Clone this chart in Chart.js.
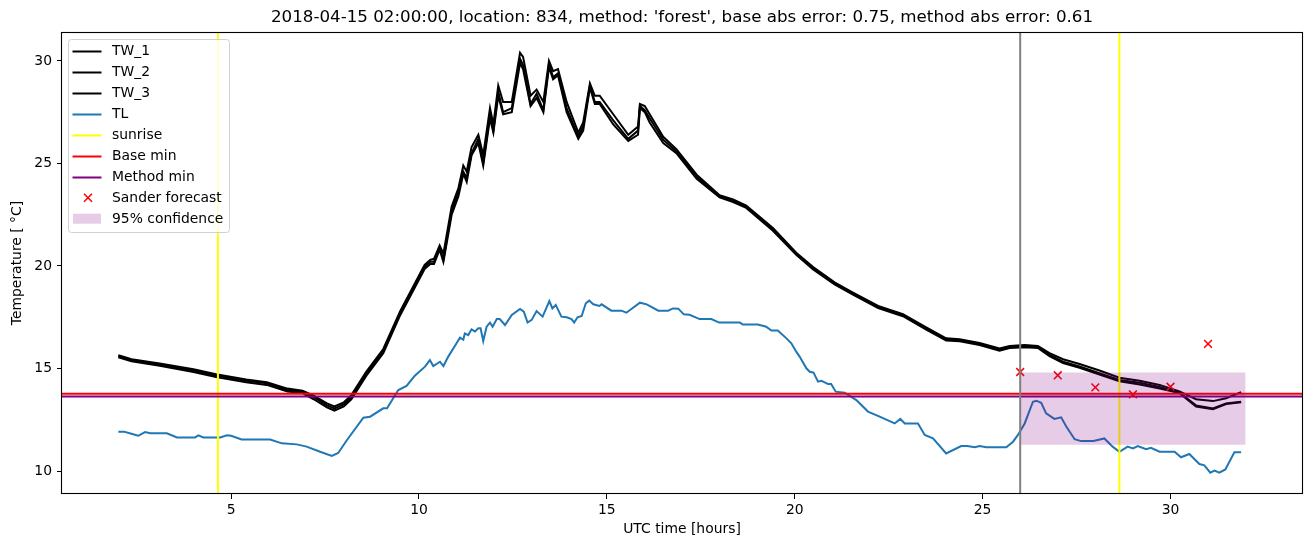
<!DOCTYPE html>
<html><head><meta charset="utf-8">
<script src="https://cdn.jsdelivr.net/npm/chart.js@4.4.1/dist/chart.umd.min.js"></script>
<style>html,body{margin:0;padding:0;background:#fff;}canvas{display:block;}</style>
</head><body>
<canvas id="c" width="1310" height="547"></canvas>
<script>
const titleText = "2018-04-15 02:00:00, location: 834, method: 'forest', base abs error: 0.75, method abs error: 0.61";
const xTitle = "UTC time [hours]";
const yTitle = "Temperature [ \u00B0C]";
const xTicks = [5, 10, 15, 20, 25, 30];
const yTicks = [10, 15, 20, 25, 30];
const xLimits = [0.5, 33.5];
const yLimits = [8.88, 31.41];

const twX = [2.0, 2.35, 3.1, 4.0, 4.6, 5.4, 5.95, 6.5, 6.9, 7.2, 7.55, 7.75, 8.0, 8.2, 8.6, 9.05, 9.5, 10.15, 10.3, 10.4, 10.55, 10.65, 10.87, 11.05, 11.18, 11.27, 11.4, 11.58, 11.71, 11.89, 11.98, 12.11, 12.24, 12.47, 12.69, 12.77, 12.97, 13.13, 13.31, 13.46, 13.57, 13.7, 13.93, 14.24, 14.37, 14.55, 14.68, 14.81, 15.17, 15.57, 15.83, 15.88, 16.01, 16.14, 16.5, 16.85, 17.39, 18.0, 18.36, 18.71, 19.42, 20.04, 20.49, 21.06, 21.55, 22.22, 22.88, 23.5, 24.03, 24.39, 24.92, 25.45, 25.72, 26.12, 26.47, 26.78, 27.14, 27.58, 28.11, 28.64, 29.18, 29.71, 30.24, 30.68, 31.13, 31.48, 31.88];
const tw1 = [15.65, 15.45, 15.25, 14.97, 14.72, 14.47, 14.33, 14.02, 13.92, 13.68, 13.3, 13.15, 13.35, 13.7, 14.85, 15.95, 17.8, 20.05, 20.3, 20.35, 21.0, 20.6, 22.9, 23.8, 24.9, 24.6, 25.8, 26.4, 25.4, 27.7, 26.9, 28.8, 28.0, 28.0, 30.4, 30.2, 28.3, 28.6, 28.0, 30.0, 29.5, 29.6, 28.0, 26.5, 27.0, 28.9, 28.3, 28.3, 27.4, 26.4, 26.8, 27.9, 27.8, 27.4, 26.3, 25.7, 24.45, 23.45, 23.25, 22.95, 21.85, 20.65, 19.95, 19.2, 18.7, 18.05, 17.65, 17.0, 16.47, 16.43, 16.25, 15.98, 16.1, 16.15, 16.1, 15.75, 15.45, 15.22, 14.9, 14.55, 14.4, 14.2, 13.88, 13.5, 13.41, 13.55, 13.85];
const tw2 = [15.6, 15.4, 15.2, 14.9, 14.65, 14.4, 14.28, 13.95, 13.87, 13.6, 13.2, 13.05, 13.25, 13.6, 14.75, 15.85, 17.7, 19.95, 20.2, 20.2, 20.9, 20.3, 22.7, 23.6, 24.6, 24.3, 25.5, 26.2, 25.0, 27.4, 26.6, 28.5, 27.5, 27.7, 30.1, 29.8, 27.9, 28.4, 27.6, 29.85, 29.2, 29.4, 27.7, 26.3, 26.8, 28.8, 28.0, 28.0, 27.1, 26.2, 26.6, 27.8, 27.6, 27.2, 26.15, 25.6, 24.35, 23.4, 23.2, 22.9, 21.8, 20.6, 19.9, 19.15, 18.65, 18.0, 17.6, 16.95, 16.42, 16.38, 16.2, 15.92, 16.05, 16.1, 16.06, 15.66, 15.33, 15.1, 14.77, 14.44, 14.3, 14.1, 13.82, 13.2, 13.05, 13.3, 13.38];
const tw3 = [15.55, 15.35, 15.13, 14.83, 14.58, 14.33, 14.2, 13.88, 13.8, 13.5, 13.1, 12.95, 13.15, 13.5, 14.65, 15.75, 17.6, 19.85, 20.1, 20.1, 20.8, 20.2, 22.5, 23.4, 24.5, 24.1, 25.4, 26.0, 24.9, 27.2, 26.5, 28.3, 27.4, 27.5, 29.9, 29.6, 27.8, 28.2, 27.5, 29.7, 29.1, 29.3, 27.5, 26.2, 26.6, 28.7, 27.9, 27.9, 26.9, 26.1, 26.4, 27.7, 27.5, 27.0, 26.0, 25.5, 24.25, 23.35, 23.12, 22.83, 21.72, 20.55, 19.83, 19.1, 18.6, 17.95, 17.55, 16.9, 16.36, 16.33, 16.15, 15.87, 16.0, 16.04, 16.0, 15.6, 15.27, 15.03, 14.7, 14.38, 14.22, 14.02, 13.8, 13.15, 13.02, 13.27, 13.36];

const tlX = [2.0, 2.15, 2.3, 2.53, 2.71, 2.85, 3.29, 3.56, 4.04, 4.13, 4.26, 4.71, 4.89, 5.0, 5.28, 6.04, 6.35, 6.75, 7.01, 7.37, 7.68, 7.85, 8.08, 8.52, 8.7, 9.05, 9.15, 9.45, 9.67, 9.89, 10.16, 10.29, 10.38, 10.56, 10.65, 10.78, 11.0, 11.09, 11.18, 11.22, 11.31, 11.4, 11.49, 11.58, 11.64, 11.71, 11.8, 11.89, 11.96, 12.07, 12.15, 12.29, 12.47, 12.69, 12.79, 12.89, 13.0, 13.13, 13.29, 13.47, 13.55, 13.64, 13.79, 13.93, 14.06, 14.13, 14.22, 14.33, 14.44, 14.53, 14.64, 14.8, 14.86, 15.12, 15.39, 15.52, 15.88, 16.06, 16.37, 16.63, 16.76, 16.9, 17.05, 17.2, 17.47, 17.78, 17.99, 18.54, 18.62, 19.02, 19.24, 19.38, 19.55, 19.78, 19.91, 20.04, 20.13, 20.31, 20.4, 20.5, 20.62, 20.71, 20.89, 20.97, 21.09, 21.33, 21.64, 21.95, 22.26, 22.66, 22.81, 22.93, 23.28, 23.46, 23.68, 24.03, 24.43, 24.59, 24.79, 24.92, 25.1, 25.63, 25.81, 25.94, 26.12, 26.34, 26.43, 26.56, 26.69, 26.91, 27.09, 27.23, 27.45, 27.62, 27.95, 28.24, 28.46, 28.64, 28.86, 29.0, 29.13, 29.35, 29.48, 29.71, 30.11, 30.28, 30.5, 30.77, 30.9, 31.06, 31.17, 31.3, 31.46, 31.7, 31.88];
const tl = [11.92, 11.92, 11.84, 11.72, 11.9, 11.84, 11.84, 11.64, 11.64, 11.74, 11.64, 11.64, 11.74, 11.72, 11.54, 11.54, 11.35, 11.3, 11.19, 10.94, 10.74, 10.88, 11.5, 12.6, 12.65, 13.06, 13.06, 13.95, 14.15, 14.65, 15.09, 15.41, 15.12, 15.33, 15.12, 15.58, 16.23, 16.5, 16.4, 16.71, 16.63, 16.91, 16.8, 16.96, 16.96, 16.34, 17.04, 17.24, 17.04, 17.41, 17.41, 17.12, 17.61, 17.9, 17.77, 17.24, 17.37, 17.8, 17.53, 18.29, 17.93, 18.1, 17.53, 17.5, 17.41, 17.24, 17.5, 17.56, 18.18, 18.31, 18.13, 18.05, 18.13, 17.82, 17.82, 17.72, 18.21, 18.13, 17.82, 17.82, 17.93, 17.92, 17.64, 17.62, 17.41, 17.41, 17.24, 17.24, 17.14, 17.14, 17.04, 16.85, 16.85, 16.47, 16.23, 15.82, 15.58, 15.01, 14.84, 14.8, 14.36, 14.4, 14.24, 14.24, 13.87, 13.82, 13.46, 12.9, 12.65, 12.32, 12.54, 12.32, 12.32, 11.76, 11.59, 10.86, 11.22, 11.22, 11.16, 11.22, 11.16, 11.16, 11.43, 11.76, 12.32, 13.38, 13.43, 13.33, 12.81, 12.54, 12.62, 12.16, 11.55, 11.46, 11.46, 11.59, 11.19, 10.94, 11.19, 11.1, 11.22, 11.06, 11.13, 10.94, 10.94, 10.67, 10.83, 10.34, 10.28, 9.92, 10.02, 9.92, 10.08, 10.91, 10.91];

const sunriseX = [4.65, 28.64];
const forecastStartX = 26;
const baseMin = 13.77;
const methodMin = 13.64;
const forecastX = [26, 27, 28, 29, 30, 31];
const forecastY = [14.83, 14.67, 14.08, 13.74, 14.11, 16.2];
const bandX = [26, 32];
const bandHigh = 14.8;
const bandLow = 11.28;

const legendLabels = ['TW_1', 'TW_2', 'TW_3', 'TL', 'sunrise', 'Base min', 'Method min', 'Sander forecast', '95% confidence'];

const FONT = "'DejaVu Sans', sans-serif";
const FS = 13.9;
const pts = (xs, ys) => xs.map((x, i) => ({x: x, y: ys[i]}));
const vlines = xs => { const out = []; xs.forEach((x, i) => { if (i) out.push({x: x - 0.01, y: null}); out.push({x: x, y: yLimits[0]}); out.push({x: x, y: yLimits[1]}); }); return out; };
const hline = y => [{x: xLimits[0], y: y}, {x: xLimits[1], y: y}];

const lineDs = (label, data, color, order, w) => ({label, data, borderColor: color, backgroundColor: color, borderWidth: w || 2, pointRadius: 0, fill: false, tension: 0, order});

const datasets = [
  lineDs('TW_1', pts(twX, tw1), '#000000', 20, 2),
  lineDs('TW_2', pts(twX, tw2), '#000000', 19, 2),
  lineDs('TW_3', pts(twX, tw3), '#000000', 18, 2),
  lineDs('TL', pts(tlX, tl), '#1f77b4', 17, 2),
  Object.assign(lineDs('sunrise', vlines(sunriseX), '#ffff00', 16, 2), {spanGaps: false}),
  lineDs('Base min', hline(baseMin), '#ff0000', 15, 2),
  lineDs('Method min', hline(methodMin), '#800080', 14, 2),
  {label: 'Sander forecast', data: pts(forecastX, forecastY), showLine: false, pointStyle: 'crossRot', pointRadius: 5.5, pointBorderWidth: 1.5, borderColor: '#ff0000', backgroundColor: '#ff0000', order: 13},
  {label: '95% confidence', data: bandX.map(x => ({x: x, y: bandHigh})), borderWidth: 0, borderColor: 'rgba(0,0,0,0)', pointRadius: 0, backgroundColor: 'rgba(128,0,128,0.2)', fill: {target: {value: bandLow}}, order: 12},
  lineDs('forecast start', [{x: forecastStartX, y: yLimits[0]}, {x: forecastStartX, y: yLimits[1]}], '#808080', 11, 2)
];

const framePlugin = {
  id: 'frame',
  beforeDraw(chart) {
    const c = chart.ctx; c.save(); c.fillStyle = '#fff'; c.fillRect(0, 0, chart.width, chart.height); c.restore();
  },
  afterDatasetsDraw(chart) {
    const a = chart.chartArea, c = chart.ctx;
    c.save(); c.strokeStyle = '#000'; c.lineWidth = 1.1;
    c.strokeRect(Math.round(a.left) - 0.5, Math.round(a.top) + 0.5, Math.round(a.right - a.left) + 1, Math.round(a.bottom - a.top) - 1);
    c.restore();
  },
  afterDraw(chart) {
    const c = chart.ctx, a = chart.chartArea;
    c.save();
    c.fillStyle = '#000'; c.font = '16.7px ' + FONT; c.textAlign = 'center'; c.textBaseline = 'middle';
    c.fillText(titleText, (a.left + a.right) / 2, 18);
    // legend
    const bx = 68.5, by = 39.5, bw = 161, bh = 193, r = 3;
    c.beginPath();
    c.moveTo(bx + r, by); c.lineTo(bx + bw - r, by); c.arcTo(bx + bw, by, bx + bw, by + r, r);
    c.lineTo(bx + bw, by + bh - r); c.arcTo(bx + bw, by + bh, bx + bw - r, by + bh, r);
    c.lineTo(bx + r, by + bh); c.arcTo(bx, by + bh, bx, by + bh - r, r);
    c.lineTo(bx, by + r); c.arcTo(bx, by, bx + r, by, r); c.closePath();
    c.fillStyle = 'rgba(255,255,255,0.8)'; c.fill();
    c.strokeStyle = 'rgba(204,204,204,0.9)'; c.lineWidth = 1; c.stroke();
    const colors = ['#000000', '#000000', '#000000', '#1f77b4', '#ffff00', '#ff0000', '#800080'];
    c.font = FS + 'px ' + FONT; c.textAlign = 'left'; c.textBaseline = 'middle';
    legendLabels.forEach((lab, i) => {
      const y = 50.7 + i * 21.0;
      if (i < 7) {
        c.strokeStyle = colors[i]; c.lineWidth = 2; c.beginPath(); c.moveTo(72.5, Math.round(y) + 0.5); c.lineTo(101.5, Math.round(y) + 0.5); c.stroke();
      } else if (i === 7) {
        c.strokeStyle = '#ff0000'; c.lineWidth = 1.5; c.beginPath();
        c.moveTo(84, y - 4); c.lineTo(92, y + 4); c.moveTo(92, y - 4); c.lineTo(84, y + 4); c.stroke();
      } else {
        c.fillStyle = 'rgba(128,0,128,0.2)'; c.fillRect(73, y - 5, 28, 10);
      }
      c.fillStyle = '#000'; c.fillText(lab, 112, y + 0.5);
    });
    c.restore();
  }
};

new Chart(document.getElementById('c'), {
  type: 'line',
  data: {datasets},
  plugins: [framePlugin],
  options: {
    responsive: false, animation: false, devicePixelRatio: 1,
    layout: {padding: {top: 32, right: 8, left: 0, bottom: 0}},
    plugins: {legend: {display: false}, title: {display: false}, tooltip: {enabled: false}},
    scales: {
      x: {
        type: 'linear', min: xLimits[0], max: xLimits[1],
        afterBuildTicks: s => { s.ticks = xTicks.map(v => ({value: v})); },
        afterFit: s => { s.height = 53; },
        grid: {drawOnChartArea: false, drawTicks: true, tickLength: 5, color: '#000', tickWidth: 1},
        border: {display: false},
        ticks: {color: '#000', font: {family: FONT, size: FS}, padding: 3, maxRotation: 0, callback: v => String(v)},
        title: {display: true, text: xTitle, color: '#000', font: {family: FONT, size: FS}, padding: {top: 0, bottom: 9.5}}
      },
      y: {
        type: 'linear', min: yLimits[0], max: yLimits[1],
        afterBuildTicks: s => { s.ticks = yTicks.map(v => ({value: v})); },
        afterFit: s => { s.width = 62; },
        grid: {drawOnChartArea: false, drawTicks: true, tickLength: 5, color: '#000', tickWidth: 1},
        border: {display: false},
        ticks: {color: '#000', font: {family: FONT, size: FS}, padding: 5, callback: v => String(v)},
        title: {display: true, text: yTitle, color: '#000', font: {family: FONT, size: FS}, padding: {top: 9.5, bottom: 0}}
      }
    }
  }
});
</script>
</body></html>
